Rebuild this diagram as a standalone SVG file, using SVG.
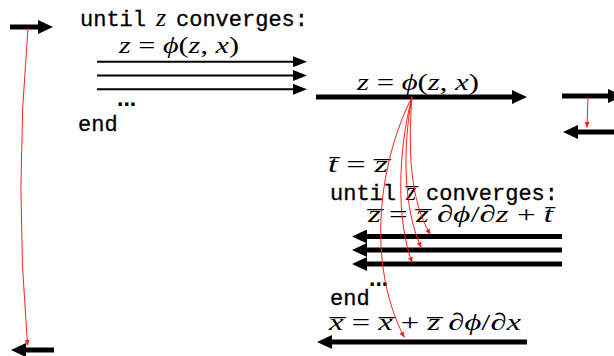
<svg xmlns="http://www.w3.org/2000/svg" width="614" height="356" viewBox="0 0 614 356">
<style>
.tt{font-family:"Liberation Mono","DejaVu Sans Mono",monospace;font-size:22px;fill:#000;stroke:#000;stroke-width:0.3}
.m{font-family:"Liberation Serif","DejaVu Serif",serif;font-size:24px;fill:#000;stroke:none}
.z{font-size:26px}
.i{font-style:italic}
.dots{font-family:"Liberation Sans",Arial,sans-serif;font-weight:bold;font-size:23px}
.thick{stroke:#000;stroke-width:5;fill:none}
.thin{stroke:#000;stroke-width:2;fill:none}
.red{stroke:#ff2020;stroke-width:1;fill:none}
</style>
<defs>
<marker id="hT" markerUnits="userSpaceOnUse" markerWidth="15" markerHeight="14" viewBox="0 0 15 14" refX="3" refY="7" orient="auto"><path d="M0,0 L15,7 L0,14 z" fill="#000"/></marker>
<marker id="hN" markerUnits="userSpaceOnUse" markerWidth="14" markerHeight="11" viewBox="0 0 14 11" refX="2" refY="5.5" orient="auto"><path d="M0,0 L14,5.5 L0,11 z" fill="#000"/></marker>
<marker id="hR" markerUnits="userSpaceOnUse" markerWidth="6" markerHeight="5" viewBox="0 0 6 5" refX="5" refY="2.5" orient="auto"><path d="M0,0 L6,2.5 L0,5 z" fill="#ff2020"/></marker>
</defs>

<g id="forward-in">
<line class="thick" x1="10" y1="27" x2="41" y2="27" marker-end="url(#hT)"/>
</g>

<g id="forward-loop">
<text class="tt" y="26"><tspan x="80">until</tspan><tspan class="m i z" x="156">z</tspan><tspan x="176">converges:</tspan></text>
<text class="m" x="119" y="53" textLength="120" lengthAdjust="spacingAndGlyphs"><tspan class="i">z</tspan> = <tspan class="i">ϕ</tspan>(<tspan class="i">z</tspan>, <tspan class="i">x</tspan>)</text>
<line class="thin" x1="97" y1="61.7" x2="295" y2="61.7" marker-end="url(#hN)"/>
<line class="thin" x1="97" y1="75.5" x2="295" y2="75.5" marker-end="url(#hN)"/>
<line class="thin" x1="97" y1="89.3" x2="295" y2="89.3" marker-end="url(#hN)"/>
<text class="dots" x="117" y="106">...</text>
<text class="tt" x="78" y="131">end</text>
</g>

<g id="forward-fixed">
<text class="m" x="357" y="90" textLength="122" lengthAdjust="spacingAndGlyphs"><tspan class="i">z</tspan> = <tspan class="i">ϕ</tspan>(<tspan class="i">z</tspan>, <tspan class="i">x</tspan>)</text>
<line class="thick" x1="316" y1="97" x2="515" y2="97" marker-end="url(#hT)"/>
</g>

<g id="right-out">
<line class="thick" x1="562" y1="96" x2="611" y2="96" marker-end="url(#hT)"/>
<line class="thick" x1="620" y1="132" x2="575" y2="132" marker-end="url(#hT)"/>
</g>

<g id="backward-loop">
<text class="m" x="328" y="172" textLength="60" lengthAdjust="spacingAndGlyphs"><tspan class="i">t̄</tspan> = <tspan class="i">z̅</tspan></text>
<text class="tt" y="200"><tspan x="330">until</tspan><tspan class="m i z" x="406">z̅</tspan><tspan x="426">converges:</tspan></text>
<text class="m" x="368" y="222" textLength="185" lengthAdjust="spacingAndGlyphs"><tspan class="i">z̅</tspan> = <tspan class="i">z̅</tspan> ∂<tspan class="i">ϕ</tspan>/∂<tspan class="i">z</tspan> + <tspan class="i">t̄</tspan></text>
<line class="thick" x1="562" y1="236.5" x2="364" y2="236.5" marker-end="url(#hT)"/>
<line class="thick" x1="562" y1="250" x2="364" y2="250" marker-end="url(#hT)"/>
<line class="thick" x1="562" y1="264" x2="364" y2="264" marker-end="url(#hT)"/>
<text class="dots" x="369" y="286">...</text>
<text class="tt" x="330" y="305">end</text>
</g>

<g id="backward-out">
<text class="m" x="329" y="330" textLength="192" lengthAdjust="spacingAndGlyphs"><tspan class="i">x̅</tspan> = <tspan class="i">x̅</tspan> + <tspan class="i">z̅</tspan> ∂<tspan class="i">ϕ</tspan>/∂<tspan class="i">x</tspan></text>
<line class="thick" x1="527" y1="342" x2="329" y2="342" marker-end="url(#hT)"/>
</g>

<g id="backward-in">
<line class="thick" x1="54" y1="350" x2="23" y2="350" marker-end="url(#hT)"/>
</g>

<g id="connectors">
<path class="red" d="M28,28 Q14,187 27.5,345" marker-end="url(#hR)"/>
<path class="red" d="M588,97 L587,127" marker-end="url(#hR)"/>
<path class="red" d="M412,97 C380,160 365,260 404,337" marker-end="url(#hR)"/>
<path class="red" d="M412,97 C398,150 396,220 412,262" marker-end="url(#hR)"/>
<path class="red" d="M412,97 C402,150 404,210 421,247" marker-end="url(#hR)"/>
<path class="red" d="M412,97 C408,150 410,200 430,234" marker-end="url(#hR)"/>
</g>
</svg>
